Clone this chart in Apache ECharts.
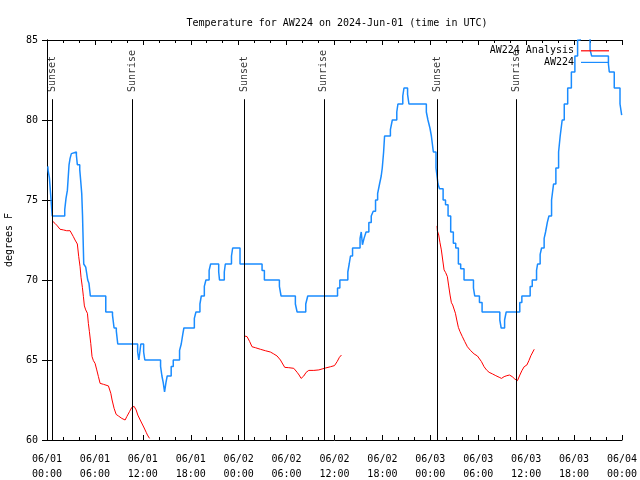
<!DOCTYPE html>
<html>
<head>
<meta charset="utf-8">
<script src="https://cdn.jsdelivr.net/npm/echarts@6/dist/echarts.min.js"></script>
<style>html,body{margin:0;padding:0;background:#fff}#c{width:640px;height:480px}</style>
</head>
<body>
<div id="c"></div>
<script>
// hours since 2024-06-01 00:00 UTC
const xTickLabels = ['06/01\n00:00','06/01\n06:00','06/01\n12:00','06/01\n18:00','06/02\n00:00','06/02\n06:00','06/02\n12:00','06/02\n18:00','06/03\n00:00','06/03\n06:00','06/03\n12:00','06/03\n18:00','06/04\n00:00'];
const sunHours = [0.66, 10.7, 24.75, 34.66, 48.83, 58.78];
const sunNames = ['Sunset','Sunrise','Sunset','Sunrise','Sunset','Sunrise'];

// AW224 observations: [hour, degF] change points
const aw224 = [
[0.10,77.1],[0.15,76.8],[0.30,76.4],[0.45,75.4],[0.65,74.0],
[2.22,74.4],[2.38,75.1],[2.55,75.6],[2.63,76.2],[2.76,77.2],[2.89,77.6],[3.05,77.9],[3.18,78.0],
[3.68,77.8],[3.80,77.2],[4.10,76.9],[4.22,76.2],[4.35,75.4],[4.45,74.0],[4.50,73.0],[4.60,71.0],[4.85,70.8],[5.10,70.0],[5.25,69.8],[5.43,69.0],
[7.36,68.0],[8.20,67.8],[8.40,67.0],[8.68,66.8],[8.86,66.0],
[11.35,65.5],[11.50,65.0],[11.75,66.0],[12.10,65.5],[12.25,65.0],
[14.22,64.6],[14.39,64.0],[14.55,63.6],[14.72,63.0],[14.90,63.6],[15.05,64.0],
[15.55,64.6],[15.81,65.0],[16.60,65.6],[16.81,66.0],[17.00,66.6],[17.14,67.0],
[18.45,67.6],[18.65,68.0],[19.15,68.5],[19.32,69.0],[19.70,69.6],[19.90,70.0],[20.30,70.6],[20.49,71.0],
[21.50,70.5],[21.60,70.0],[22.20,70.5],[22.33,71.0],[23.10,71.5],[23.25,72.0],[24.17,71.0],
[26.93,70.6],[27.22,70.0],[29.10,69.6],[29.31,69.0],[31.10,68.5],[31.32,68.0],[32.40,68.5],[32.65,69.0],
[36.38,69.5],[36.67,70.0],[37.67,70.5],[37.84,71.0],[38.00,71.5],[38.26,72.0],
[39.20,72.6],[39.35,73.0],[39.50,72.2],[39.70,72.6],[39.95,73.0],[40.30,73.6],[40.60,74.0],[40.85,74.3],[41.14,75.0],[41.40,75.4],[41.64,76.0],[41.85,76.5],[41.98,77.0],[42.15,78.0],[42.27,79.0],
[43.00,79.4],[43.24,80.0],[43.80,80.5],[43.94,81.0],[44.55,81.5],[44.70,82.0],[45.15,81.6],[45.32,81.0],
[47.50,80.5],[47.70,80.0],[47.95,79.5],[48.13,79.0],[48.38,78.0],[48.71,77.0],[48.96,76.0],[49.15,75.7],[49.60,75.0],[49.90,74.7],[50.22,74.0],[50.55,73.0],[50.88,72.3],[51.18,72.0],[51.51,71.0],[51.80,70.7],[52.22,70.0],
[53.40,69.5],[53.56,69.0],[54.15,68.6],[54.48,68.0],[56.70,67.5],[56.87,67.0],[57.30,67.5],[57.50,68.0],
[59.20,68.6],[59.46,69.0],[60.50,69.6],[60.76,70.0],[61.30,70.6],[61.43,71.0],[61.75,71.6],[61.93,72.0],[62.25,72.6],[62.43,73.0],[62.65,73.6],[62.85,74.0],
[63.18,75.0],[63.43,76.0],[63.72,77.0],[64.06,78.0],[64.26,79.0],[64.51,80.0],[64.77,81.0],[65.20,82.0],[65.66,83.0],[66.10,84.0],[66.44,85.0],[66.77,86.0],
[68.00,84.4],[68.20,84.0],[70.30,83.5],[70.41,83.0],[71.03,82.0],[71.75,81.0],[71.96,80.3],[72.00,80.3]
];

// AW224 Analysis segments: [hour, degF]
const analysis1 = [
[0.67,73.69],[1.00,73.54],[1.30,73.38],[1.63,73.17],[2.05,73.13],[2.47,73.08],[2.89,73.08],[3.01,73.0],[3.30,72.71],[3.51,72.5],[3.80,72.25],
[3.97,71.46],[4.14,70.83],[4.26,70.17],[4.43,69.54],[4.56,68.96],[4.68,68.38],[4.85,68.13],[5.06,67.92],[5.18,67.29],[5.31,66.77],[5.48,66.04],
[5.64,65.21],[5.81,64.96],[6.02,64.79],[6.23,64.38],[6.44,63.96],[6.65,63.54],[7.07,63.48],[7.69,63.38],[7.82,63.27],[7.99,62.92],[8.15,62.5],
[8.40,61.98],[8.66,61.6],[8.95,61.5],[9.37,61.35],[9.78,61.25],[9.99,61.46],[10.33,61.77],[10.62,62.04],[10.91,62.10],[11.16,61.88],[11.37,61.56],
[11.67,61.25],[11.92,61.0],[12.17,60.75],[12.42,60.48],[12.58,60.31],[12.84,60.1]
];
const analysis2 = [
[24.75,66.5],[25.05,66.46],[25.38,66.15],[25.67,65.83],[26.09,65.77],[26.72,65.67],[27.35,65.58],[27.97,65.5],[28.39,65.38],[28.81,65.25],
[29.23,65.0],[29.52,64.75],[29.77,64.54],[30.27,64.52],[30.90,64.48],[31.32,64.23],[31.57,64.06],[31.82,63.85],[32.15,64.0],[32.45,64.23],
[32.78,64.35],[33.41,64.35],[34.04,64.38],[34.45,64.44],[34.87,64.5],[35.50,64.58],[36.00,64.65],[36.33,64.9],[36.62,65.17],[36.87,65.31]
];
const analysis3 = [
[48.84,73.38],[48.88,73.08],[49.05,72.81],[49.21,72.33],[49.38,71.88],[49.55,71.25],[49.72,70.63],[49.92,70.46],[50.13,70.21],[50.30,69.63],
[50.47,69.06],[50.64,68.58],[50.80,68.44],[50.97,68.33],[51.14,67.92],[51.31,67.5],[51.51,67.04],[51.72,66.77],[52.01,66.46],[52.31,66.15],
[52.64,65.83],[53.06,65.58],[53.48,65.38],[53.90,65.25],[54.15,65.21],[54.40,64.9],[54.73,64.58],[55.03,64.38],[55.36,64.23],[55.78,64.13],
[56.20,64.02],[56.62,63.92],[56.91,63.85],[57.24,63.96],[57.58,64.02],[57.91,64.06],[58.25,63.96],[58.58,63.81],[58.91,63.71],[59.21,64.06],
[59.46,64.33],[59.75,64.58],[60.09,64.69],[60.34,64.96],[60.59,65.27],[61.01,65.67]
];

const Y_MIN = 60, Y_MAX = 85;
const SUN_LINE_TOP = 81.3;
const SUN_LABEL_BASE = 81.75;

const FONT = 'DejaVu Sans Mono';
const BLUE = '#1a8cff';
const RED = '#ff0000';

const chart = echarts.init(document.getElementById('c'), null, {renderer: 'canvas'});

const xCommon = {
  type: 'value', min: 0, max: 72, interval: 6,
  axisLine: {show: true, lineStyle: {color: '#000', width: 1}},
  axisTick: {show: true, inside: true, length: 5, lineStyle: {color: '#000'}},
  minorTick: {show: true, splitNumber: 3, length: 3, lineStyle: {color: '#000'}},
  splitLine: {show: false}
};
const yCommon = {
  type: 'value', min: Y_MIN, max: Y_MAX, interval: 5,
  axisLine: {show: true, lineStyle: {color: '#000', width: 1}},
  axisTick: {show: true, inside: true, length: 5, lineStyle: {color: '#000'}},
  splitLine: {show: false}
};

const redSeries = [analysis1, analysis2, analysis3].map(d => ({
  name: 'AW224 Analysis', type: 'line', data: d, symbol: 'none',
  lineStyle: {color: RED, width: 1}, itemStyle: {color: RED}, z: 3
}));

chart.setOption({
  animation: false,
  backgroundColor: '#fff',
  title: {
    text: 'Temperature for AW224 on 2024-Jun-01 (time in UTC)',
    left: 332, top: 13, textAlign: 'center',
    textStyle: {fontFamily: FONT, fontSize: 10, fontWeight: 'normal', color: '#000'}
  },
  legend: {
    data: [{name: 'AW224 Analysis', icon: 'rect'}, {name: 'AW224', icon: 'rect'}],
    orient: 'vertical', right: 31, top: 45, align: 'right',
    itemWidth: 28, itemHeight: 1.2, itemGap: 0, padding: 0,
    textStyle: {fontFamily: FONT, fontSize: 10, color: '#000', lineHeight: 11.6, padding: [0, 2, 0, 0]}
  },
  grid: {left: 47, right: 18, top: 40, bottom: 40, containLabel: false, outerBoundsMode: 'none'},
  xAxis: [
    Object.assign({}, xCommon, {
      position: 'bottom',
      axisLabel: {
        show: true, margin: 12, lineHeight: 15,
        fontFamily: FONT, fontSize: 10, color: '#000',
        formatter: v => xTickLabels[Math.round(v / 6)]
      }
    }),
    Object.assign({}, xCommon, {position: 'top', axisLabel: {show: false}})
  ],
  yAxis: [
    Object.assign({}, yCommon, {
      position: 'left',
      name: 'degrees F', nameLocation: 'middle', nameGap: 33,
      nameTextStyle: {fontFamily: FONT, fontSize: 10, color: '#000'},
      axisLabel: {show: true, margin: 9, fontFamily: FONT, fontSize: 10, color: '#000'}
    }),
    Object.assign({}, yCommon, {position: 'right', axisLabel: {show: false}})
  ],
  series: [
    ...redSeries,
    {
      name: 'AW224', type: 'line', data: aw224, step: 'end', symbol: 'none',
      lineStyle: {color: BLUE, width: 1.5}, itemStyle: {color: BLUE}, z: 2
    },
    {
      name: 'sun', type: 'scatter', symbolSize: 0, z: 4,
      data: sunHours.map(h => [h, SUN_LABEL_BASE]),
      label: {
        show: true, position: 'inside', rotate: 90, align: 'left', verticalAlign: 'middle',
        fontFamily: FONT, fontSize: 10, color: '#000',
        formatter: p => sunNames[p.dataIndex]
      },
      markLine: {
        silent: true, symbol: 'none', animation: false,
        label: {show: false},
        lineStyle: {color: '#000', width: 1, type: 'solid'},
        data: sunHours.map(h => [{coord: [h, Y_MIN]}, {coord: [h, SUN_LINE_TOP]}])
      }
    }
  ]
});
</script>
</body>
</html>
